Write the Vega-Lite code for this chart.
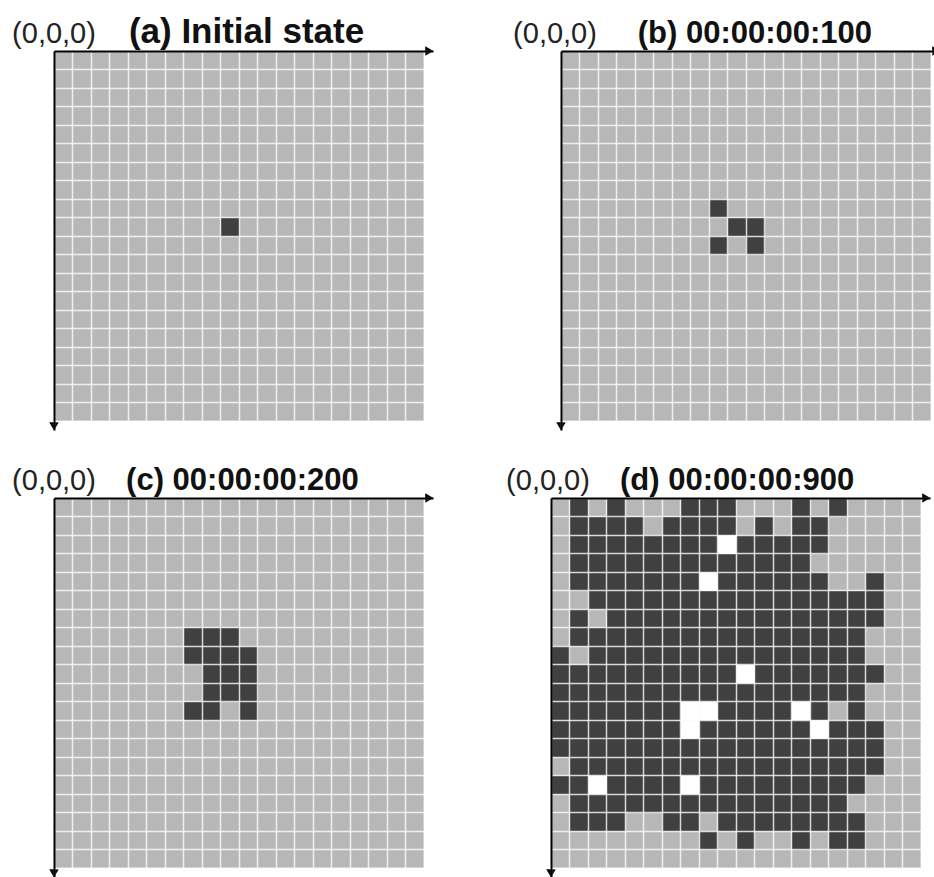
{
  "$schema": "https://vega.github.io/schema/vega-lite/v6.json",
  "background": "white",
  "padding": {"left": 12, "top": 15, "right": 0, "bottom": 0},
  "config": {"view": {"stroke": null}},
  "datasets": {
    "cells": [
      {"p":"a","r":9,"c":9,"s":"D"},
      {"p":"b","r":8,"c":8,"s":"D"},{"p":"b","r":9,"c":9,"s":"D"},{"p":"b","r":9,"c":10,"s":"D"},{"p":"b","r":10,"c":8,"s":"D"},{"p":"b","r":10,"c":10,"s":"D"},
      {"p":"c","r":7,"c":7,"s":"D"},{"p":"c","r":7,"c":8,"s":"D"},{"p":"c","r":7,"c":9,"s":"D"},
      {"p":"c","r":8,"c":7,"s":"D"},{"p":"c","r":8,"c":8,"s":"D"},{"p":"c","r":8,"c":9,"s":"D"},{"p":"c","r":8,"c":10,"s":"D"},
      {"p":"c","r":9,"c":8,"s":"D"},{"p":"c","r":9,"c":9,"s":"D"},{"p":"c","r":9,"c":10,"s":"D"},
      {"p":"c","r":10,"c":8,"s":"D"},{"p":"c","r":10,"c":9,"s":"D"},{"p":"c","r":10,"c":10,"s":"D"},
      {"p":"c","r":11,"c":7,"s":"D"},{"p":"c","r":11,"c":8,"s":"D"},{"p":"c","r":11,"c":10,"s":"D"},

      {"p":"d","r":0,"c":1,"s":"D"},{"p":"d","r":0,"c":3,"s":"D"},{"p":"d","r":0,"c":7,"s":"D"},{"p":"d","r":0,"c":8,"s":"D"},{"p":"d","r":0,"c":9,"s":"D"},{"p":"d","r":0,"c":13,"s":"D"},{"p":"d","r":0,"c":15,"s":"D"},

      {"p":"d","r":1,"c":1,"s":"D"},{"p":"d","r":1,"c":2,"s":"D"},{"p":"d","r":1,"c":3,"s":"D"},{"p":"d","r":1,"c":4,"s":"D"},{"p":"d","r":1,"c":6,"s":"D"},{"p":"d","r":1,"c":7,"s":"D"},{"p":"d","r":1,"c":8,"s":"D"},{"p":"d","r":1,"c":9,"s":"D"},{"p":"d","r":1,"c":11,"s":"D"},{"p":"d","r":1,"c":13,"s":"D"},{"p":"d","r":1,"c":14,"s":"D"},

      {"p":"d","r":2,"c":1,"s":"D"},{"p":"d","r":2,"c":2,"s":"D"},{"p":"d","r":2,"c":3,"s":"D"},{"p":"d","r":2,"c":4,"s":"D"},{"p":"d","r":2,"c":5,"s":"D"},{"p":"d","r":2,"c":6,"s":"D"},{"p":"d","r":2,"c":7,"s":"D"},{"p":"d","r":2,"c":8,"s":"D"},{"p":"d","r":2,"c":9,"s":"W"},{"p":"d","r":2,"c":10,"s":"D"},{"p":"d","r":2,"c":11,"s":"D"},{"p":"d","r":2,"c":12,"s":"D"},{"p":"d","r":2,"c":13,"s":"D"},{"p":"d","r":2,"c":14,"s":"D"},

      {"p":"d","r":3,"c":1,"s":"D"},{"p":"d","r":3,"c":2,"s":"D"},{"p":"d","r":3,"c":3,"s":"D"},{"p":"d","r":3,"c":4,"s":"D"},{"p":"d","r":3,"c":5,"s":"D"},{"p":"d","r":3,"c":6,"s":"D"},{"p":"d","r":3,"c":7,"s":"D"},{"p":"d","r":3,"c":8,"s":"D"},{"p":"d","r":3,"c":9,"s":"D"},{"p":"d","r":3,"c":10,"s":"D"},{"p":"d","r":3,"c":11,"s":"D"},{"p":"d","r":3,"c":12,"s":"D"},{"p":"d","r":3,"c":13,"s":"D"},

      {"p":"d","r":4,"c":1,"s":"D"},{"p":"d","r":4,"c":2,"s":"D"},{"p":"d","r":4,"c":3,"s":"D"},{"p":"d","r":4,"c":4,"s":"D"},{"p":"d","r":4,"c":5,"s":"D"},{"p":"d","r":4,"c":6,"s":"D"},{"p":"d","r":4,"c":7,"s":"D"},{"p":"d","r":4,"c":8,"s":"W"},{"p":"d","r":4,"c":9,"s":"D"},{"p":"d","r":4,"c":10,"s":"D"},{"p":"d","r":4,"c":11,"s":"D"},{"p":"d","r":4,"c":12,"s":"D"},{"p":"d","r":4,"c":13,"s":"D"},{"p":"d","r":4,"c":14,"s":"D"},{"p":"d","r":4,"c":17,"s":"D"},

      {"p":"d","r":5,"c":2,"s":"D"},{"p":"d","r":5,"c":3,"s":"D"},{"p":"d","r":5,"c":4,"s":"D"},{"p":"d","r":5,"c":5,"s":"D"},{"p":"d","r":5,"c":6,"s":"D"},{"p":"d","r":5,"c":7,"s":"D"},{"p":"d","r":5,"c":8,"s":"D"},{"p":"d","r":5,"c":9,"s":"D"},{"p":"d","r":5,"c":10,"s":"D"},{"p":"d","r":5,"c":11,"s":"D"},{"p":"d","r":5,"c":12,"s":"D"},{"p":"d","r":5,"c":13,"s":"D"},{"p":"d","r":5,"c":14,"s":"D"},{"p":"d","r":5,"c":15,"s":"D"},{"p":"d","r":5,"c":16,"s":"D"},{"p":"d","r":5,"c":17,"s":"D"},

      {"p":"d","r":6,"c":1,"s":"D"},{"p":"d","r":6,"c":3,"s":"D"},{"p":"d","r":6,"c":4,"s":"D"},{"p":"d","r":6,"c":5,"s":"D"},{"p":"d","r":6,"c":6,"s":"D"},{"p":"d","r":6,"c":7,"s":"D"},{"p":"d","r":6,"c":8,"s":"D"},{"p":"d","r":6,"c":9,"s":"D"},{"p":"d","r":6,"c":10,"s":"D"},{"p":"d","r":6,"c":11,"s":"D"},{"p":"d","r":6,"c":12,"s":"D"},{"p":"d","r":6,"c":13,"s":"D"},{"p":"d","r":6,"c":14,"s":"D"},{"p":"d","r":6,"c":15,"s":"D"},{"p":"d","r":6,"c":16,"s":"D"},{"p":"d","r":6,"c":17,"s":"D"},

      {"p":"d","r":7,"c":1,"s":"D"},{"p":"d","r":7,"c":2,"s":"D"},{"p":"d","r":7,"c":3,"s":"D"},{"p":"d","r":7,"c":4,"s":"D"},{"p":"d","r":7,"c":5,"s":"D"},{"p":"d","r":7,"c":6,"s":"D"},{"p":"d","r":7,"c":7,"s":"D"},{"p":"d","r":7,"c":8,"s":"D"},{"p":"d","r":7,"c":9,"s":"D"},{"p":"d","r":7,"c":10,"s":"D"},{"p":"d","r":7,"c":11,"s":"D"},{"p":"d","r":7,"c":12,"s":"D"},{"p":"d","r":7,"c":13,"s":"D"},{"p":"d","r":7,"c":14,"s":"D"},{"p":"d","r":7,"c":15,"s":"D"},{"p":"d","r":7,"c":16,"s":"D"},

      {"p":"d","r":8,"c":0,"s":"D"},{"p":"d","r":8,"c":2,"s":"D"},{"p":"d","r":8,"c":3,"s":"D"},{"p":"d","r":8,"c":4,"s":"D"},{"p":"d","r":8,"c":5,"s":"D"},{"p":"d","r":8,"c":6,"s":"D"},{"p":"d","r":8,"c":7,"s":"D"},{"p":"d","r":8,"c":8,"s":"D"},{"p":"d","r":8,"c":9,"s":"D"},{"p":"d","r":8,"c":10,"s":"D"},{"p":"d","r":8,"c":11,"s":"D"},{"p":"d","r":8,"c":12,"s":"D"},{"p":"d","r":8,"c":13,"s":"D"},{"p":"d","r":8,"c":14,"s":"D"},{"p":"d","r":8,"c":15,"s":"D"},{"p":"d","r":8,"c":16,"s":"D"},

      {"p":"d","r":9,"c":0,"s":"D"},{"p":"d","r":9,"c":1,"s":"D"},{"p":"d","r":9,"c":2,"s":"D"},{"p":"d","r":9,"c":3,"s":"D"},{"p":"d","r":9,"c":4,"s":"D"},{"p":"d","r":9,"c":5,"s":"D"},{"p":"d","r":9,"c":6,"s":"D"},{"p":"d","r":9,"c":7,"s":"D"},{"p":"d","r":9,"c":8,"s":"D"},{"p":"d","r":9,"c":9,"s":"D"},{"p":"d","r":9,"c":10,"s":"W"},{"p":"d","r":9,"c":11,"s":"D"},{"p":"d","r":9,"c":12,"s":"D"},{"p":"d","r":9,"c":13,"s":"D"},{"p":"d","r":9,"c":14,"s":"D"},{"p":"d","r":9,"c":15,"s":"D"},{"p":"d","r":9,"c":16,"s":"D"},{"p":"d","r":9,"c":17,"s":"D"},

      {"p":"d","r":10,"c":0,"s":"D"},{"p":"d","r":10,"c":1,"s":"D"},{"p":"d","r":10,"c":2,"s":"D"},{"p":"d","r":10,"c":3,"s":"D"},{"p":"d","r":10,"c":4,"s":"D"},{"p":"d","r":10,"c":5,"s":"D"},{"p":"d","r":10,"c":6,"s":"D"},{"p":"d","r":10,"c":7,"s":"D"},{"p":"d","r":10,"c":8,"s":"D"},{"p":"d","r":10,"c":9,"s":"D"},{"p":"d","r":10,"c":10,"s":"D"},{"p":"d","r":10,"c":11,"s":"D"},{"p":"d","r":10,"c":12,"s":"D"},{"p":"d","r":10,"c":13,"s":"D"},{"p":"d","r":10,"c":14,"s":"D"},{"p":"d","r":10,"c":15,"s":"D"},{"p":"d","r":10,"c":16,"s":"D"},

      {"p":"d","r":11,"c":0,"s":"D"},{"p":"d","r":11,"c":1,"s":"D"},{"p":"d","r":11,"c":2,"s":"D"},{"p":"d","r":11,"c":3,"s":"D"},{"p":"d","r":11,"c":4,"s":"D"},{"p":"d","r":11,"c":5,"s":"D"},{"p":"d","r":11,"c":6,"s":"D"},{"p":"d","r":11,"c":7,"s":"W"},{"p":"d","r":11,"c":8,"s":"W"},{"p":"d","r":11,"c":9,"s":"D"},{"p":"d","r":11,"c":10,"s":"D"},{"p":"d","r":11,"c":11,"s":"D"},{"p":"d","r":11,"c":12,"s":"D"},{"p":"d","r":11,"c":13,"s":"W"},{"p":"d","r":11,"c":14,"s":"D"},{"p":"d","r":11,"c":16,"s":"D"},

      {"p":"d","r":12,"c":0,"s":"D"},{"p":"d","r":12,"c":1,"s":"D"},{"p":"d","r":12,"c":2,"s":"D"},{"p":"d","r":12,"c":3,"s":"D"},{"p":"d","r":12,"c":4,"s":"D"},{"p":"d","r":12,"c":5,"s":"D"},{"p":"d","r":12,"c":6,"s":"D"},{"p":"d","r":12,"c":7,"s":"W"},{"p":"d","r":12,"c":8,"s":"D"},{"p":"d","r":12,"c":9,"s":"D"},{"p":"d","r":12,"c":10,"s":"D"},{"p":"d","r":12,"c":11,"s":"D"},{"p":"d","r":12,"c":12,"s":"D"},{"p":"d","r":12,"c":13,"s":"D"},{"p":"d","r":12,"c":14,"s":"W"},{"p":"d","r":12,"c":15,"s":"D"},{"p":"d","r":12,"c":16,"s":"D"},{"p":"d","r":12,"c":17,"s":"D"},

      {"p":"d","r":13,"c":0,"s":"D"},{"p":"d","r":13,"c":1,"s":"D"},{"p":"d","r":13,"c":2,"s":"D"},{"p":"d","r":13,"c":3,"s":"D"},{"p":"d","r":13,"c":4,"s":"D"},{"p":"d","r":13,"c":5,"s":"D"},{"p":"d","r":13,"c":6,"s":"D"},{"p":"d","r":13,"c":7,"s":"D"},{"p":"d","r":13,"c":8,"s":"D"},{"p":"d","r":13,"c":9,"s":"D"},{"p":"d","r":13,"c":10,"s":"D"},{"p":"d","r":13,"c":11,"s":"D"},{"p":"d","r":13,"c":12,"s":"D"},{"p":"d","r":13,"c":13,"s":"D"},{"p":"d","r":13,"c":14,"s":"D"},{"p":"d","r":13,"c":15,"s":"D"},{"p":"d","r":13,"c":16,"s":"D"},{"p":"d","r":13,"c":17,"s":"D"},

      {"p":"d","r":14,"c":1,"s":"D"},{"p":"d","r":14,"c":2,"s":"D"},{"p":"d","r":14,"c":3,"s":"D"},{"p":"d","r":14,"c":4,"s":"D"},{"p":"d","r":14,"c":5,"s":"D"},{"p":"d","r":14,"c":6,"s":"D"},{"p":"d","r":14,"c":7,"s":"D"},{"p":"d","r":14,"c":8,"s":"D"},{"p":"d","r":14,"c":9,"s":"D"},{"p":"d","r":14,"c":10,"s":"D"},{"p":"d","r":14,"c":11,"s":"D"},{"p":"d","r":14,"c":12,"s":"D"},{"p":"d","r":14,"c":13,"s":"D"},{"p":"d","r":14,"c":14,"s":"D"},{"p":"d","r":14,"c":15,"s":"D"},{"p":"d","r":14,"c":16,"s":"D"},{"p":"d","r":14,"c":17,"s":"D"},

      {"p":"d","r":15,"c":0,"s":"D"},{"p":"d","r":15,"c":1,"s":"D"},{"p":"d","r":15,"c":2,"s":"W"},{"p":"d","r":15,"c":3,"s":"D"},{"p":"d","r":15,"c":4,"s":"D"},{"p":"d","r":15,"c":5,"s":"D"},{"p":"d","r":15,"c":6,"s":"D"},{"p":"d","r":15,"c":7,"s":"W"},{"p":"d","r":15,"c":8,"s":"D"},{"p":"d","r":15,"c":9,"s":"D"},{"p":"d","r":15,"c":10,"s":"D"},{"p":"d","r":15,"c":11,"s":"D"},{"p":"d","r":15,"c":12,"s":"D"},{"p":"d","r":15,"c":13,"s":"D"},{"p":"d","r":15,"c":14,"s":"D"},{"p":"d","r":15,"c":15,"s":"D"},{"p":"d","r":15,"c":16,"s":"D"},

      {"p":"d","r":16,"c":1,"s":"D"},{"p":"d","r":16,"c":2,"s":"D"},{"p":"d","r":16,"c":3,"s":"D"},{"p":"d","r":16,"c":4,"s":"D"},{"p":"d","r":16,"c":5,"s":"D"},{"p":"d","r":16,"c":6,"s":"D"},{"p":"d","r":16,"c":7,"s":"D"},{"p":"d","r":16,"c":8,"s":"D"},{"p":"d","r":16,"c":9,"s":"D"},{"p":"d","r":16,"c":10,"s":"D"},{"p":"d","r":16,"c":11,"s":"D"},{"p":"d","r":16,"c":12,"s":"D"},{"p":"d","r":16,"c":13,"s":"D"},{"p":"d","r":16,"c":14,"s":"D"},{"p":"d","r":16,"c":15,"s":"D"},

      {"p":"d","r":17,"c":1,"s":"D"},{"p":"d","r":17,"c":2,"s":"D"},{"p":"d","r":17,"c":3,"s":"D"},{"p":"d","r":17,"c":6,"s":"D"},{"p":"d","r":17,"c":7,"s":"D"},{"p":"d","r":17,"c":9,"s":"D"},{"p":"d","r":17,"c":10,"s":"D"},{"p":"d","r":17,"c":11,"s":"D"},{"p":"d","r":17,"c":12,"s":"D"},{"p":"d","r":17,"c":13,"s":"D"},{"p":"d","r":17,"c":14,"s":"D"},{"p":"d","r":17,"c":15,"s":"D"},{"p":"d","r":17,"c":16,"s":"D"},

      {"p":"d","r":18,"c":8,"s":"D"},{"p":"d","r":18,"c":10,"s":"D"},{"p":"d","r":18,"c":13,"s":"D"},{"p":"d","r":18,"c":15,"s":"D"},{"p":"d","r":18,"c":16,"s":"D"}
    ],
    "panels": [
      {"p":"a","label":"(a) Initial state"},
      {"p":"b","label":"(b) 00:00:00:100"},
      {"p":"c","label":"(c) 00:00:00:200"},
      {"p":"d","label":"(d) 00:00:00:900"}
    ]
  },
  "spacing": 34,
  "vconcat": [
    {
      "spacing": 79,
      "hconcat": [
        {
          "width": 379, "height": 379,
          "layer": [
            {"data": {"values": [{}]}, "mark": {"type": "rect", "color": "#b7b7b7"},
             "encoding": {
               "x": {"datum": 0, "type": "quantitative", "scale": {"domain": [0, 20.5], "nice": false, "zero": false}},
               "x2": {"datum": 20},
               "y": {"datum": 0, "type": "quantitative", "scale": {"domain": [0, 20.5], "nice": false, "zero": false, "reverse": true}},
               "y2": {"datum": 20}}},
            {"data": {"name": "cells"}, "transform": [{"filter": "datum.p === 'a'"}], "mark": {"type": "rect"},
             "encoding": {
               "x": {"field": "c", "type": "quantitative", "bin": {"binned": true, "step": 1},
                     "axis": {"orient": "top", "values": [0,1,2,3,4,5,6,7,8,9,10,11,12,13,14,15,16,17,18,19,20], "labels": false, "ticks": false, "title": null, "domain": true, "domainColor": "#000000", "domainWidth": 2, "grid": true, "gridColor": "#ffffff", "gridWidth": 1.5, "gridOpacity": 0.78, "zindex": 1}},
               "y": {"field": "r", "type": "quantitative", "bin": {"binned": true, "step": 1},
                     "axis": {"orient": "left", "values": [0,1,2,3,4,5,6,7,8,9,10,11,12,13,14,15,16,17,18,19,20], "labels": false, "ticks": false, "title": null, "domain": true, "domainColor": "#000000", "domainWidth": 2, "grid": true, "gridColor": "#ffffff", "gridWidth": 1.5, "gridOpacity": 0.78, "zindex": 1}},
               "color": {"field": "s", "type": "nominal", "scale": {"domain": ["D", "W"], "range": ["#404040", "#ffffff"]}, "legend": null}}},
            {"data": {"values": [{}]}, "mark": {"type": "point", "shape": "triangle-right", "filled": true, "color": "#000000", "opacity": 1, "size": 90},
             "encoding": {"x": {"datum": 20.3, "type": "quantitative"}, "y": {"datum": 0, "type": "quantitative"}}},
            {"data": {"values": [{}]}, "mark": {"type": "point", "shape": "triangle-down", "filled": true, "color": "#000000", "opacity": 1, "size": 90},
             "encoding": {"x": {"datum": 0, "type": "quantitative"}, "y": {"datum": 20.3, "type": "quantitative"}}},
            {"data": {"values": [{}]}, "mark": {"type": "text", "text": "(0,0,0)", "font": "Liberation Sans", "fontSize": 29, "align": "center", "baseline": "alphabetic", "dy": -8, "color": "#222222"},
             "encoding": {"x": {"datum": 0, "type": "quantitative"}, "y": {"datum": 0, "type": "quantitative"}}},
            {"data": {"name": "panels"}, "transform": [{"filter": "datum.p === 'a'"}], "mark": {"type": "text", "font": "Liberation Sans", "fontWeight": "bold", "fontSize": 35, "align": "left", "baseline": "alphabetic", "dy": -8, "color": "#111111"},
             "encoding": {"text": {"field": "label"}, "x": {"datum": 4.05, "type": "quantitative"}, "y": {"datum": 0, "type": "quantitative"}}}
          ]
        },
        {
          "width": 379, "height": 379,
          "layer": [
            {"data": {"values": [{}]}, "mark": {"type": "rect", "color": "#b7b7b7"},
             "encoding": {
               "x": {"datum": 0, "type": "quantitative", "scale": {"domain": [0, 20.5], "nice": false, "zero": false}},
               "x2": {"datum": 20},
               "y": {"datum": 0, "type": "quantitative", "scale": {"domain": [0, 20.5], "nice": false, "zero": false, "reverse": true}},
               "y2": {"datum": 20}}},
            {"data": {"name": "cells"}, "transform": [{"filter": "datum.p === 'b'"}], "mark": {"type": "rect"},
             "encoding": {
               "x": {"field": "c", "type": "quantitative", "bin": {"binned": true, "step": 1},
                     "axis": {"orient": "top", "values": [0,1,2,3,4,5,6,7,8,9,10,11,12,13,14,15,16,17,18,19,20], "labels": false, "ticks": false, "title": null, "domain": true, "domainColor": "#000000", "domainWidth": 2, "grid": true, "gridColor": "#ffffff", "gridWidth": 1.5, "gridOpacity": 0.78, "zindex": 1}},
               "y": {"field": "r", "type": "quantitative", "bin": {"binned": true, "step": 1},
                     "axis": {"orient": "left", "values": [0,1,2,3,4,5,6,7,8,9,10,11,12,13,14,15,16,17,18,19,20], "labels": false, "ticks": false, "title": null, "domain": true, "domainColor": "#000000", "domainWidth": 2, "grid": true, "gridColor": "#ffffff", "gridWidth": 1.5, "gridOpacity": 0.78, "zindex": 1}},
               "color": {"field": "s", "type": "nominal", "scale": {"domain": ["D", "W"], "range": ["#404040", "#ffffff"]}, "legend": null}}},
            {"data": {"values": [{}]}, "mark": {"type": "point", "shape": "triangle-right", "filled": true, "color": "#000000", "opacity": 1, "size": 90},
             "encoding": {"x": {"datum": 20.3, "type": "quantitative"}, "y": {"datum": 0, "type": "quantitative"}}},
            {"data": {"values": [{}]}, "mark": {"type": "point", "shape": "triangle-down", "filled": true, "color": "#000000", "opacity": 1, "size": 90},
             "encoding": {"x": {"datum": 0, "type": "quantitative"}, "y": {"datum": 20.3, "type": "quantitative"}}},
            {"data": {"values": [{}]}, "mark": {"type": "text", "text": "(0,0,0)", "font": "Liberation Sans", "fontSize": 29, "align": "center", "baseline": "alphabetic", "dy": -8, "dx": -6, "color": "#222222"},
             "encoding": {"x": {"datum": 0, "type": "quantitative"}, "y": {"datum": 0, "type": "quantitative"}}},
            {"data": {"name": "panels"}, "transform": [{"filter": "datum.p === 'b'"}], "mark": {"type": "text", "font": "Liberation Sans", "fontWeight": "bold", "fontSize": 31, "align": "left", "baseline": "alphabetic", "dy": -8, "color": "#111111"},
             "encoding": {"text": {"field": "label"}, "x": {"datum": 4.15, "type": "quantitative"}, "y": {"datum": 0, "type": "quantitative"}}}
          ]
        }
      ]
    },
    {
      "spacing": 72,
      "hconcat": [
        {
          "width": 379, "height": 379,
          "layer": [
            {"data": {"values": [{}]}, "mark": {"type": "rect", "color": "#b7b7b7"},
             "encoding": {
               "x": {"datum": 0, "type": "quantitative", "scale": {"domain": [0, 20.5], "nice": false, "zero": false}},
               "x2": {"datum": 20},
               "y": {"datum": 0, "type": "quantitative", "scale": {"domain": [0, 20.5], "nice": false, "zero": false, "reverse": true}},
               "y2": {"datum": 20}}},
            {"data": {"name": "cells"}, "transform": [{"filter": "datum.p === 'c'"}], "mark": {"type": "rect"},
             "encoding": {
               "x": {"field": "c", "type": "quantitative", "bin": {"binned": true, "step": 1},
                     "axis": {"orient": "top", "values": [0,1,2,3,4,5,6,7,8,9,10,11,12,13,14,15,16,17,18,19,20], "labels": false, "ticks": false, "title": null, "domain": true, "domainColor": "#000000", "domainWidth": 2, "grid": true, "gridColor": "#ffffff", "gridWidth": 1.5, "gridOpacity": 0.78, "zindex": 1}},
               "y": {"field": "r", "type": "quantitative", "bin": {"binned": true, "step": 1},
                     "axis": {"orient": "left", "values": [0,1,2,3,4,5,6,7,8,9,10,11,12,13,14,15,16,17,18,19,20], "labels": false, "ticks": false, "title": null, "domain": true, "domainColor": "#000000", "domainWidth": 2, "grid": true, "gridColor": "#ffffff", "gridWidth": 1.5, "gridOpacity": 0.78, "zindex": 1}},
               "color": {"field": "s", "type": "nominal", "scale": {"domain": ["D", "W"], "range": ["#404040", "#ffffff"]}, "legend": null}}},
            {"data": {"values": [{}]}, "mark": {"type": "point", "shape": "triangle-right", "filled": true, "color": "#000000", "opacity": 1, "size": 90},
             "encoding": {"x": {"datum": 20.3, "type": "quantitative"}, "y": {"datum": 0, "type": "quantitative"}}},
            {"data": {"values": [{}]}, "mark": {"type": "point", "shape": "triangle-down", "filled": true, "color": "#000000", "opacity": 1, "size": 90},
             "encoding": {"x": {"datum": 0, "type": "quantitative"}, "y": {"datum": 20.3, "type": "quantitative"}}},
            {"data": {"values": [{}]}, "mark": {"type": "text", "text": "(0,0,0)", "font": "Liberation Sans", "fontSize": 29, "align": "center", "baseline": "alphabetic", "dy": -8, "color": "#222222"},
             "encoding": {"x": {"datum": 0, "type": "quantitative"}, "y": {"datum": 0, "type": "quantitative"}}},
            {"data": {"name": "panels"}, "transform": [{"filter": "datum.p === 'c'"}], "mark": {"type": "text", "font": "Liberation Sans", "fontWeight": "bold", "fontSize": 31, "align": "left", "baseline": "alphabetic", "dy": -8, "color": "#111111"},
             "encoding": {"text": {"field": "label"}, "x": {"datum": 3.9, "type": "quantitative"}, "y": {"datum": 0, "type": "quantitative"}}}
          ]
        },
        {
          "width": 379, "height": 379,
          "layer": [
            {"data": {"values": [{}]}, "mark": {"type": "rect", "color": "#b7b7b7"},
             "encoding": {
               "x": {"datum": 0, "type": "quantitative", "scale": {"domain": [0, 20.5], "nice": false, "zero": false}},
               "x2": {"datum": 20},
               "y": {"datum": 0, "type": "quantitative", "scale": {"domain": [0, 20.5], "nice": false, "zero": false, "reverse": true}},
               "y2": {"datum": 20}}},
            {"data": {"name": "cells"}, "transform": [{"filter": "datum.p === 'd'"}], "mark": {"type": "rect"},
             "encoding": {
               "x": {"field": "c", "type": "quantitative", "bin": {"binned": true, "step": 1},
                     "axis": {"orient": "top", "values": [0,1,2,3,4,5,6,7,8,9,10,11,12,13,14,15,16,17,18,19,20], "labels": false, "ticks": false, "title": null, "domain": true, "domainColor": "#000000", "domainWidth": 2, "grid": true, "gridColor": "#ffffff", "gridWidth": 1.5, "gridOpacity": 0.78, "zindex": 1}},
               "y": {"field": "r", "type": "quantitative", "bin": {"binned": true, "step": 1},
                     "axis": {"orient": "left", "values": [0,1,2,3,4,5,6,7,8,9,10,11,12,13,14,15,16,17,18,19,20], "labels": false, "ticks": false, "title": null, "domain": true, "domainColor": "#000000", "domainWidth": 2, "grid": true, "gridColor": "#ffffff", "gridWidth": 1.5, "gridOpacity": 0.78, "zindex": 1}},
               "color": {"field": "s", "type": "nominal", "scale": {"domain": ["D", "W"], "range": ["#404040", "#ffffff"]}, "legend": null}}},
            {"data": {"values": [{}]}, "mark": {"type": "point", "shape": "triangle-right", "filled": true, "color": "#000000", "opacity": 1, "size": 90},
             "encoding": {"x": {"datum": 20.3, "type": "quantitative"}, "y": {"datum": 0, "type": "quantitative"}}},
            {"data": {"values": [{}]}, "mark": {"type": "point", "shape": "triangle-down", "filled": true, "color": "#000000", "opacity": 1, "size": 90},
             "encoding": {"x": {"datum": 0, "type": "quantitative"}, "y": {"datum": 20.3, "type": "quantitative"}}},
            {"data": {"values": [{}]}, "mark": {"type": "text", "text": "(0,0,0)", "font": "Liberation Sans", "fontSize": 29, "align": "center", "baseline": "alphabetic", "dy": -8, "dx": -3, "color": "#222222"},
             "encoding": {"x": {"datum": 0, "type": "quantitative"}, "y": {"datum": 0, "type": "quantitative"}}},
            {"data": {"name": "panels"}, "transform": [{"filter": "datum.p === 'd'"}], "mark": {"type": "text", "font": "Liberation Sans", "fontWeight": "bold", "fontSize": 31, "align": "left", "baseline": "alphabetic", "dy": -8, "color": "#111111"},
             "encoding": {"text": {"field": "label"}, "x": {"datum": 3.73, "type": "quantitative"}, "y": {"datum": 0, "type": "quantitative"}}}
          ]
        }
      ]
    }
  ]
}
